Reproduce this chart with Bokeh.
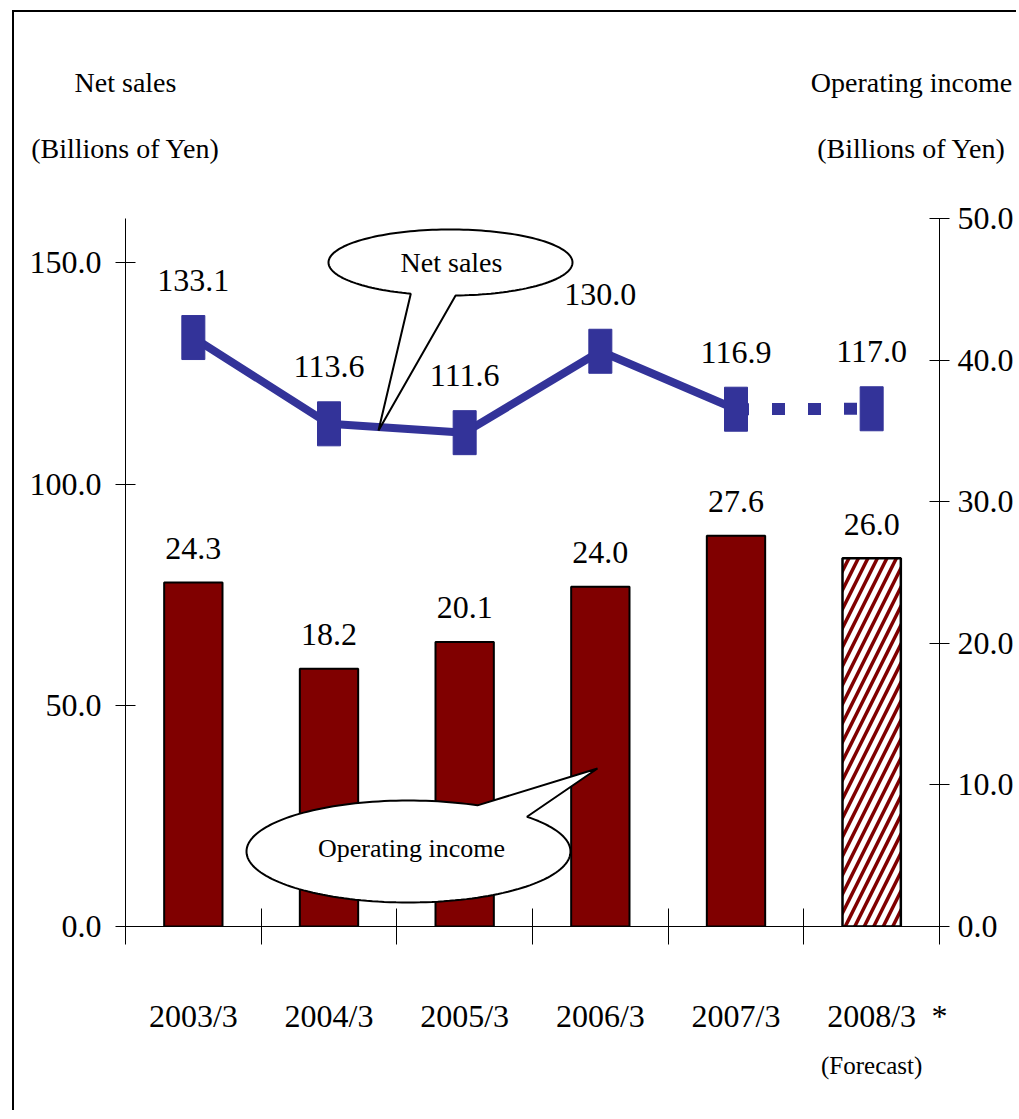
import math
from bokeh.plotting import figure
from bokeh.models import (Range1d, LinearAxis, FixedTicker, NumeralTickFormatter,
                          ColumnDataSource, LabelSet, Label)
from bokeh.embed import file_html
from bokeh.resources import INLINE
from bokeh.core.properties import value

# ---------------- data ----------------
categories = ["2003/3", "2004/3", "2005/3", "2006/3", "2007/3", "2008/3"]
net_sales = [133.1, 113.6, 111.6, 130.0, 116.9, 117.0]
operating_income = [24.3, 18.2, 20.1, 24.0, 27.6, 26.0]
left_ticks = [0, 50, 100, 150]
right_ticks = [0, 10, 20, 30, 40, 50]
left_title = ["Net sales", "(Billions of Yen)"]
right_title = ["Operating income", "(Billions of Yen)"]
forecast_note = "(Forecast)"
forecast_mark = "*"

FONT = "Liberation Serif"
NAVY = "#333399"
MAROON = "#800000"

OX, OY = 14, 12          # canvas origin on the page (after the CSS frame)
W, H = 1004, 1100
FL, FR, FT, FB = 125, 939, 218, 926   # frame edges in page pixels
ML, MR, MT, MB = FL - OX, OX + W - FR, FT - OY, OY + H - FB
LEFT_MAX, RIGHT_MAX = 160, 50
N = len(categories)

p = figure(width=W, height=H, output_backend="svg", toolbar_location=None,
           x_range=Range1d(0, N), y_range=Range1d(0, LEFT_MAX),
           min_border_left=ML, min_border_right=MR, min_border_top=MT, min_border_bottom=MB,
           x_axis_type=None, y_axis_type=None)
p.extra_y_ranges = {"oi": Range1d(0, RIGHT_MAX)}
p.outline_line_color = None
p.background_fill_color = "white"
p.border_fill_color = "white"
p.styles = {"margin-left": "12px", "margin-top": "10px",
            "border-left": "2px solid black", "border-top": "2px solid black"}

def px2x(px):
    return (px - FL) / (FR - FL) * N
def py2y(py):
    return (FB - py) / (FB - FT) * LEFT_MAX

xs = [i + 0.5 for i in range(N)]
src = ColumnDataSource(dict(
    x=xs, ns=net_sales, oi=operating_income,
    ns_lbl=[f"{v:.1f}" for v in net_sales],
    oi_lbl=[f"{v:.1f}" for v in operating_income]))

# bars
p.vbar(x=xs[:-1], top=operating_income[:-1], width=0.43, y_range_name="oi",
       fill_color=MAROON, line_color="black", line_width=2)
p.vbar(x=xs[-1:], top=operating_income[-1:], width=0.43, y_range_name="oi",
       fill_color="white", hatch_pattern="right_diagonal_line", hatch_color=MAROON,
       hatch_scale=19, hatch_weight=3.5, line_color="black", line_width=2.5)

# net sales line
p.line(xs[:-1], net_sales[:-1], line_color=NAVY, line_width=8)
p.line(xs[-2:], net_sales[-2:], line_color=NAVY, line_width=12, line_dash="13 23")
p.rect(xs, net_sales, width=23, height=44, width_units="screen", height_units="screen",
       fill_color=NAVY, line_color=NAVY)

# callouts
def bubble(cx, cy, rx, ry, t0, t1, tip, n=160):
    pts = []
    for k in range(n + 1):
        t = math.radians(t0 + (t1 - t0) * k / n)
        pts.append((cx + rx * math.cos(t), cy + ry * math.sin(t)))
    pts.append(tip)
    return [px2x(a) for a, b in pts], [py2y(b) for a, b in pts]

bx, by = bubble(450, 262, 122, 33, 109, 447.6, (378, 430))
p.patch(bx, by, fill_color="white", line_color="black", line_width=2)
bx, by = bubble(408, 851, 162, 51, 317, 655.2, (597, 768))
p.patch(bx, by, fill_color="white", line_color="black", line_width=2)

p.add_layout(Label(x=px2x(451), y=py2y(262), text="Net sales", text_font=FONT,
                   text_font_size="28px", text_align="center", text_baseline="middle",
                   text_color="black"))
p.add_layout(Label(x=px2x(411), y=py2y(848), text="Operating income", text_font=FONT,
                   text_font_size="26px", text_align="center", text_baseline="middle",
                   text_color="black"))

# data labels
p.add_layout(LabelSet(x="x", y="ns", text="ns_lbl", source=src, text_align="center",
                      text_baseline="middle", y_offset=57, text_font=value(FONT),
                      text_font_size="32px", text_color="black"))
p.add_layout(LabelSet(x="x", y="oi", text="oi_lbl", source=src, y_range_name="oi",
                      text_align="center", text_baseline="middle", y_offset=34,
                      text_font=value(FONT), text_font_size="32px", text_color="black"))

def style_text_axis(ax, size, standoff):
    ax.major_label_text_font = FONT
    ax.major_label_text_font_size = size
    ax.major_label_text_color = "black"
    ax.major_label_standoff = standoff

# x axis: boundary ticks (minor) and category labels (major, no tick marks)
xaxis = LinearAxis(ticker=FixedTicker(ticks=xs + [N], minor_ticks=list(range(N + 1))),
                   major_label_overrides={**{x: c for x, c in zip(xs, categories)}, N: forecast_mark})
xaxis.major_tick_line_color = None
xaxis.major_tick_in = 0
xaxis.major_tick_out = 0
xaxis.minor_tick_in = 18
xaxis.minor_tick_out = 18
xaxis.minor_tick_line_color = "black"
xaxis.axis_line_color = "black"
style_text_axis(xaxis, "32px", 53)
p.add_layout(xaxis, "below")

# second row below: forecast note
x2 = LinearAxis(ticker=FixedTicker(ticks=[xs[-1]], minor_ticks=[]),
                major_label_overrides={xs[-1]: forecast_note})
x2.axis_line_color = None
x2.major_tick_line_color = None
x2.major_tick_in = 0
x2.major_tick_out = 0
style_text_axis(x2, "25px", 15)
p.add_layout(x2, "below")

# y axes
yl = LinearAxis(ticker=FixedTicker(ticks=left_ticks), formatter=NumeralTickFormatter(format="0.0"))
yr = LinearAxis(y_range_name="oi", ticker=FixedTicker(ticks=right_ticks),
                formatter=NumeralTickFormatter(format="0.0"))
for ax, so in ((yl, 14), (yr, 8)):
    ax.minor_tick_line_color = None
    ax.major_tick_in = 10
    ax.major_tick_out = 10
    ax.major_tick_line_color = "black"
    ax.axis_line_color = "black"
    style_text_axis(ax, "32px", so)
p.add_layout(yl, "left")
p.add_layout(yr, "right")

# axis titles as rows of an "above" text axis
title_x = [0, px2x(911)]
for row, standoff in ((1, 55), (0, 32)):
    ta = LinearAxis(ticker=FixedTicker(ticks=title_x, minor_ticks=[]),
                    major_label_overrides={title_x[0]: left_title[row], title_x[1]: right_title[row]})
    ta.axis_line_color = None
    ta.major_tick_line_color = None
    ta.major_tick_in = 0
    ta.major_tick_out = 0
    style_text_axis(ta, "28px", standoff)
    p.add_layout(ta, "above")

open("out.html", "w").write(file_html(p, INLINE))
